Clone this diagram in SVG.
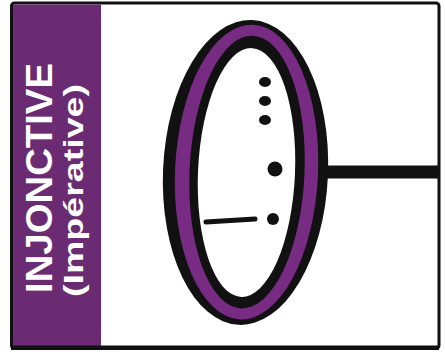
<svg xmlns="http://www.w3.org/2000/svg" width="445" height="360" viewBox="0 0 445 360">
  <style>
    .lbl { font-family: "Liberation Sans", Arial, sans-serif; font-weight: bold; fill: #ffffff; }
    .ink { fill: #111111; }
    .ring { fill: #772b82; }
  </style>
  <rect x="0" y="0" width="445" height="360" fill="#ffffff"/>
  <g id="frame">
    <rect x="11.5" y="3" width="427.5" height="345.5" rx="3" fill="#ffffff" stroke="#111111" stroke-width="3"/>
    <rect x="13" y="4.5" width="88" height="342" fill="#6a2b72"/>
    <rect x="11" y="345.5" width="428" height="4.5" fill="#111111"/>
  </g>
  <g id="label">
    <text class="lbl" font-size="37.5" transform="translate(52,293) rotate(-90)" textLength="230" lengthAdjust="spacingAndGlyphs">INJONCTIVE</text>
    <text class="lbl" font-size="27" transform="translate(83,297) rotate(-90)" textLength="213" lengthAdjust="spacingAndGlyphs">(Impérative)</text>
  </g>
  <g id="connectors">
    <line x1="322" y1="172" x2="440" y2="172" stroke="#111111" stroke-width="13"/>
  </g>
  <g id="ellipse-node">
    <g transform="rotate(2.5 246 172.5)">
      <ellipse class="ink" cx="245.5" cy="172.5" rx="82.5" ry="152.5"/>
      <ellipse class="ring" cx="246.5" cy="172" rx="71.5" ry="147.5"/>
      <ellipse class="ink" cx="247" cy="172" rx="57.5" ry="136.5"/>
      <ellipse fill="#ffffff" cx="246.5" cy="172.5" rx="48.5" ry="124.5"/>
    </g>
    <ellipse class="ink" cx="265" cy="82" rx="6" ry="5"/>
    <ellipse class="ink" cx="265" cy="101" rx="6" ry="5"/>
    <ellipse class="ink" cx="265" cy="120" rx="6" ry="5"/>
    <circle class="ink" cx="275" cy="169" r="7.5"/>
    <circle class="ink" cx="273" cy="219" r="6"/>
    <line x1="206" y1="222" x2="255" y2="219" stroke="#111111" stroke-width="5" stroke-linecap="round"/>
  </g>
</svg>
